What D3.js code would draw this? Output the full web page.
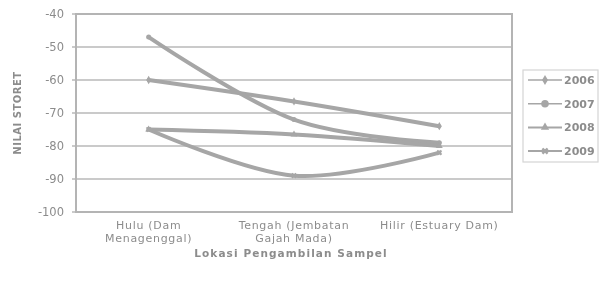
<!DOCTYPE html>
<html>
<head>
<meta charset="utf-8">
<script src="https://cdn.jsdelivr.net/npm/d3@7"></script>
<style>
  body { margin: 0; background: #fff; }
  text { font-family: "DejaVu Sans", sans-serif; fill: #8c8c8c; }
</style>
</head>
<body>
<script>
var categories = [
  ["Hulu (Dam", "Menagenggal)"],
  ["Tengah (Jembatan", "Gajah Mada)"],
  ["Hilir (Estuary Dam)"]
];
var seriesNames = ["2006", "2007", "2008", "2009"];
var s2006 = [-60, -66.5, -74];
var s2007 = [-47, -72, -79];
var s2008 = [-75, -76.5, -80];
var s2009 = [-75, -89, -82];
var yTicks = [-40, -50, -60, -70, -80, -90, -100];

var seriesValues = [s2006, s2007, s2008, s2009];
var markers = [d3.symbolDiamond, d3.symbolCircle, d3.symbolTriangle, d3.symbolCross];

var width = 607,
    height = 291,
    plotL = 76, plotR = 512, plotT = 14, plotB = 212;

var svg = d3.select("body").append("svg")
    .attr("width", width)
    .attr("height", height);

var defs = svg.append("defs");
defs.append("filter").attr("id", "soft")
  .append("feGaussianBlur").attr("stdDeviation", 0.45);

var root = svg.append("g").attr("filter", "url(#soft)");

var x = d3.scalePoint()
    .domain(d3.range(categories.length))
    .range([plotL, plotR])
    .padding(0.5);

var y = d3.scaleLinear()
    .domain([-100, -40])
    .range([plotB, plotT]);

// gridlines (with small outer ticks)
root.append("g").selectAll("line")
  .data(yTicks)
  .enter().append("line")
    .attr("x1", plotL - 4).attr("x2", plotR)
    .attr("y1", function(d) { return y(d); })
    .attr("y2", function(d) { return y(d); })
    .attr("stroke", "#b9b9b9")
    .attr("stroke-width", 1.5);

// plot border
root.append("rect")
    .attr("x", plotL).attr("y", plotT)
    .attr("width", plotR - plotL).attr("height", plotB - plotT)
    .attr("fill", "none")
    .attr("stroke", "#b4b4b4")
    .attr("stroke-width", 2);

// y axis
var yAxis = d3.axisLeft(y).tickValues(yTicks).tickSize(0).tickPadding(12)
    .tickFormat(function(d) { return String(d); });
var gy = root.append("g").attr("transform", "translate(" + plotL + ",0)").call(yAxis);
gy.select(".domain").remove();
gy.selectAll("text")
    .style("font-size", "11.5px")
    .style("font-family", "DejaVu Sans, sans-serif")
    .attr("fill", "#8c8c8c");

// x labels
var xl = root.append("g").selectAll("text")
  .data(categories)
  .enter().append("text")
    .attr("text-anchor", "middle")
    .attr("x", function(d, i) { return x(i); })
    .attr("y", 229)
    .style("font-size", "11px")
    .style("letter-spacing", "0.7px");
xl.each(function(lines, ci) {
  d3.select(this).selectAll("tspan")
    .data(lines)
    .enter().append("tspan")
      .attr("x", x(ci))
      .attr("dy", function(d, i) { return i === 0 ? 0 : 13; })
      .text(function(d) { return d; });
});

// axis titles
root.append("text")
    .attr("x", 291).attr("y", 257)
    .attr("text-anchor", "middle")
    .style("font-size", "10.5px")
    .style("font-weight", "bold")
    .style("letter-spacing", "1.1px")
    .text("Lokasi Pengambilan Sampel");

root.append("text")
    .attr("transform", "translate(21,113) rotate(-90)")
    .attr("text-anchor", "middle")
    .style("font-size", "10px")
    .style("font-weight", "bold")
    .style("letter-spacing", "0.5px")
    .text("NILAI STORET");

// series
var line = d3.line()
    .x(function(d, i) { return x(i); })
    .y(function(d) { return y(d); })
    .curve(d3.curveCardinal.tension(0));

var gs = root.append("g").selectAll("g")
  .data(seriesValues)
  .enter().append("g");

gs.append("path")
    .attr("d", function(d) { return line(d); })
    .attr("fill", "none")
    .attr("stroke", "#a6a6a6")
    .attr("stroke-width", 4)
    .attr("stroke-linecap", "round");

gs.each(function(vals, si) {
  d3.select(this).selectAll("path.m")
    .data(vals)
    .enter().append("path")
      .attr("class", "m")
      .attr("transform", function(d, i) { return "translate(" + x(i) + "," + y(d) + ")" + (si === 3 ? " rotate(45)" : ""); })
      .attr("d", d3.symbol().type(markers[si]).size(20))
      .attr("fill", "#a6a6a6");
});

// legend
var lg = root.append("g");
lg.append("rect")
    .attr("x", 523).attr("y", 70)
    .attr("width", 75).attr("height", 92)
    .attr("fill", "#fff")
    .attr("stroke", "#d4d4d4")
    .attr("stroke-width", 1.2);

var items = lg.selectAll("g.item")
  .data(seriesNames)
  .enter().append("g")
    .attr("class", "item")
    .attr("transform", function(d, i) { return "translate(0," + (80 + i * 23.7) + ")"; });

items.append("line")
    .attr("x1", 528).attr("x2", 562)
    .attr("stroke", "#a6a6a6")
    .attr("stroke-width", function(d, i) { return i < 2 ? 1.5 : 2; });

items.append("path")
    .attr("transform", function(d, i) { return "translate(545,0)" + (i === 3 ? " rotate(45)" : ""); })
    .attr("d", function(d, i) { return d3.symbol().type(markers[i]).size(i === 1 ? 45 : 30)(); })
    .attr("fill", "#a6a6a6");

items.append("text")
    .attr("x", 564).attr("y", 4)
    .style("font-size", "11px")
    .style("font-weight", "bold")
    .text(function(d) { return d; });
</script>
</body>
</html>
